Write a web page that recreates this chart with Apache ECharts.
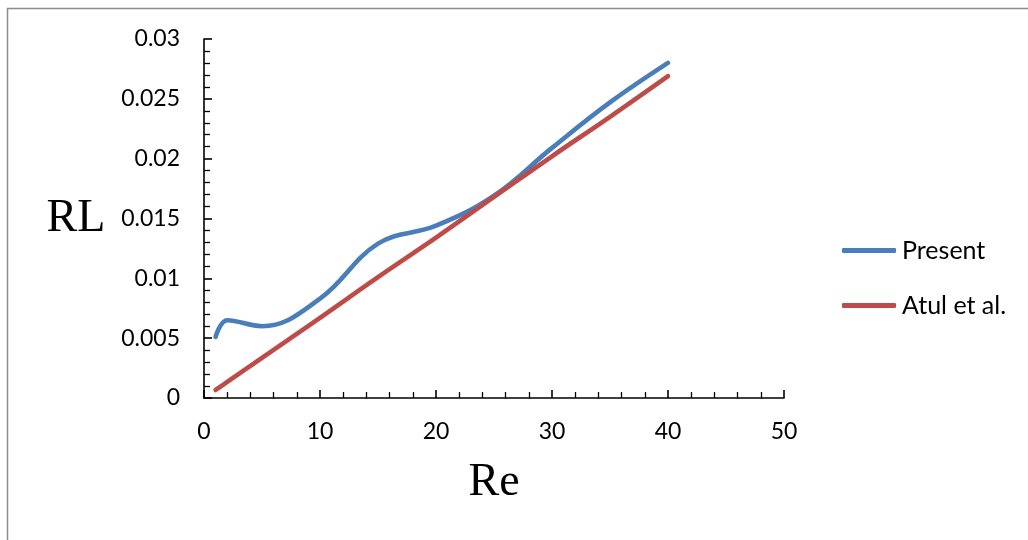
<!DOCTYPE html>
<html>
<head>
<meta charset="utf-8">
<script src="https://cdn.jsdelivr.net/npm/echarts@6/dist/echarts.min.js"></script>
<style>
html,body{margin:0;padding:0;background:#fff;}
#chart{width:1028px;height:540px;}
</style>
</head>
<body>
<div id="chart"></div>
<script>
// Data
const reValues = [1, 2, 5, 10, 15, 20, 25, 30, 35, 40];
const presentRL = [0.0051, 0.0065, 0.0060, 0.0083, 0.0129, 0.0144, 0.0169, 0.0209, 0.0247, 0.0280];
const atulRL = [0.00067, 0.00134, 0.00336, 0.0067, 0.0101, 0.0134, 0.0168, 0.0202, 0.0235, 0.0269];
const seriesNames = ['Present', 'Atul et al.'];
const xTitle = 'Re';
const yTitle = 'RL';

const chart = echarts.init(document.getElementById('chart'), null, {renderer: 'canvas'});
const pair = (xs, ys) => xs.map((x, i) => [x, ys[i]]);

chart.setOption({
  animation: false,
  backgroundColor: '#ffffff',
  graphic: [{
    type: 'polyline',
    shape: {points: [[7.5, 560], [7.5, 8.5], [1040, 8.5]]},
    style: {stroke: '#8c8c8c', lineWidth: 1.5, fill: null},
    silent: true
  }],
  grid: {left: 204, right: 244, top: 39, bottom: 142, containLabel: false},
  legend: {
    orient: 'vertical',
    left: 837,
    top: 233,
    itemWidth: 54,
    itemHeight: 5,
    itemGap: 30,
    icon: 'roundRect',
    textStyle: {fontFamily: 'Lato', fontSize: 25, color: '#000', padding: [0, 0, 0, 1]},
    data: seriesNames
  },
  xAxis: {
    type: 'value',
    min: 0, max: 50, interval: 10,
    name: xTitle,
    nameLocation: 'middle',
    nameGap: 85,
    nameTextStyle: {fontFamily: 'Liberation Serif', fontSize: 46, color: '#000', align: 'center', verticalAlign: 'middle'},
    axisLine: {show: true, onZero: false, lineStyle: {color: '#000', width: 1.6}},
    axisTick: {show: true, inside: true, length: 8, lineStyle: {color: '#000', width: 1.6}},
    minorTick: {show: true, splitNumber: 5, length: 6, lineStyle: {color: '#000', width: 1.3}},
    axisLabel: {fontFamily: 'Lato', fontSize: 23, color: '#000', margin: 22},
    splitLine: {show: false},
    minorSplitLine: {show: false}
  },
  yAxis: {
    type: 'value',
    min: 0, max: 0.03, interval: 0.005,
    name: yTitle,
    nameLocation: 'middle',
    nameRotate: 0,
    nameGap: 128,
    nameTextStyle: {fontFamily: 'Liberation Serif', fontSize: 46, color: '#000', align: 'center', verticalAlign: 'middle'},
    axisLine: {show: true, onZero: false, lineStyle: {color: '#000', width: 1.6}},
    axisTick: {show: true, inside: true, length: 8, lineStyle: {color: '#000', width: 1.6}},
    minorTick: {show: true, splitNumber: 5, length: 6, lineStyle: {color: '#000', width: 1.3}},
    axisLabel: {fontFamily: 'Lato', fontSize: 23, color: '#000', margin: 24},
    splitLine: {show: false},
    minorSplitLine: {show: false}
  },
  series: [
    {
      name: seriesNames[0],
      type: 'line',
      data: pair(reValues, presentRL),
      smooth: 0.4,
      showSymbol: false,
      symbol: 'none',
      color: '#4A7EBB',
      lineStyle: {color: '#4A7EBB', width: 4.6, cap: 'round', join: 'round'}
    },
    {
      name: seriesNames[1],
      type: 'line',
      data: pair(reValues, atulRL),
      smooth: 0.4,
      showSymbol: false,
      symbol: 'none',
      color: '#BE4B48',
      lineStyle: {color: '#BE4B48', width: 4.6, cap: 'round', join: 'round'}
    }
  ]
});
</script>
</body>
</html>
